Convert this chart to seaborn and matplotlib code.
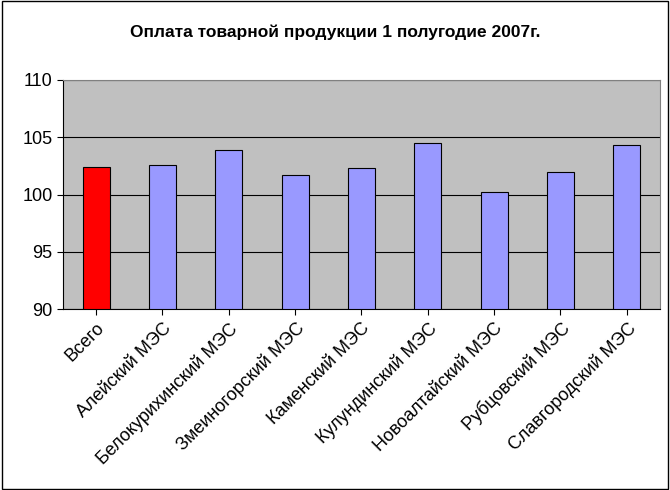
import matplotlib
matplotlib.use("Agg")
import matplotlib.pyplot as plt
import pandas as pd
import seaborn as sns

categories = ["Всего", "Алейский МЭС", "Белокурихинский МЭС", "Змеиногорский МЭС",
              "Каменский МЭС", "Кулундинский МЭС", "Новоалтайский МЭС",
              "Рубцовский МЭС", "Славгородский МЭС"]
values = [102.4, 102.6, 103.9, 101.7, 102.3, 104.5, 100.2, 102.0, 104.3]
y_ticks = [90, 95, 100, 105, 110]

df = pd.DataFrame({"cat": categories, "val": values})
colors = ["#FF0000"] + ["#9999FF"] * (len(categories) - 1)

plt.rcParams["font.family"] = "Liberation Sans"
fig = plt.figure(figsize=(6.7, 4.9), dpi=100)
fig.patch.set_facecolor("white")
fig.patches.append(plt.Rectangle((0.003, 0.003), 0.994, 0.994, transform=fig.transFigure,
                                 fill=False, edgecolor="black", linewidth=1))
ax = fig.add_axes([0.094, 0.369, 0.891, 0.468])
ax.set_facecolor("#C0C0C0")
sns.barplot(data=df, x="cat", y="val", hue="cat", palette=colors, legend=False,
            saturation=1, width=0.41, edgecolor="black", linewidth=0.8, ax=ax)
ax.set_ylim(90, 110)
ax.set_yticks(y_ticks)
ax.yaxis.grid(True, color="black", linewidth=0.8)
ax.set_axisbelow(True)
for s in ax.spines.values():
    s.set_color("#808080")
ax.spines["left"].set_color("black")
ax.spines["bottom"].set_color("black")
ax.set_xlabel("")
ax.set_ylabel("")
ax.tick_params(axis="y", labelsize=13, length=4)
ax.tick_params(axis="x", labelsize=13, length=4)
plt.setp(ax.get_xticklabels(), rotation=45, ha="right", rotation_mode="anchor")
fig.suptitle("Оплата товарной продукции 1 полугодие 2007г.", y=0.95, fontsize=12.5, fontweight="bold")
fig.savefig("out.png", dpi=100)
